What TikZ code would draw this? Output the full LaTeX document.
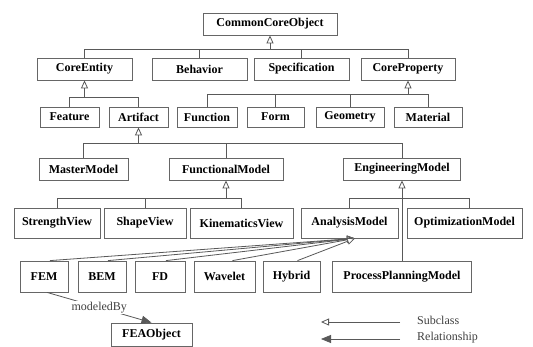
\documentclass[tikz,border=0pt]{standalone}
\usepackage{fontspec}
\setmainfont{Liberation Serif}
\usetikzlibrary{arrows.meta,calc}
\begin{document}
\begin{tikzpicture}[x=1pt,y=-1pt,
  box/.style={draw=black!60, line width=0.8pt, fill=white, font=\fontsize{12}{14}\selectfont\bfseries, inner sep=0pt, anchor=center},
  ln/.style={draw=black!65, line width=0.8pt},
  sub/.style={ln, -{Triangle[open,length=8pt,width=7pt,fill=white]}},
  rel/.style={ln, -{Triangle[length=10pt,width=8pt]}},
  lgd/.style={font=\fontsize{12}{14}\selectfont, text=black!75, anchor=west, inner sep=0pt}]
\useasboundingbox (0,0) rectangle (533,347);
\fill[white] (0,0) rectangle (533,347);
\newcommand{\bx}[6]{\node[box, minimum width=#4pt, minimum height=#5pt] (#1) at (#2,#3) {#6};}
% row 0
\bx{CCO}{270}{24}{134}{22}{CommonCoreObject}
% row 1
\bx{CE}{84.5}{69}{95}{22}{CoreEntity}
\bx{BE}{199.5}{69}{95}{22}{Behavior}
\bx{SP}{301.5}{69}{95}{22}{Specification}
\bx{CP}{408}{69}{94}{22}{CoreProperty}
% row 2
\bx{FE}{69.5}{117}{59}{20}{Feature}
\bx{AR}{138.5}{117}{59}{20}{Artifact}
\bx{FU}{207}{117}{60}{20}{Function}
\bx{FO}{275.5}{117}{57}{20}{Form}
\bx{GE}{350}{117}{68}{20}{Geometry}
\bx{MA}{428}{117}{68}{20}{Material}
% row 3
\bx{MM}{83.5}{169}{89}{22}{MasterModel}
\bx{FM}{226}{169}{114}{22}{FunctionalModel}
\bx{EM}{402}{169}{117}{22}{EngineeringModel}
% row 4
\bx{SV}{57}{223}{86}{30}{StrengthView}
\bx{SH}{145}{223}{82}{30}{ShapeView}
\bx{KV}{241.5}{223}{103}{30}{KinematicsView}
\bx{AM}{349.5}{223}{97}{30}{AnalysisModel}
\bx{OM}{464.5}{223}{115}{30}{OptimizationModel}
% row 5
\bx{FEM}{44}{276.5}{48}{31}{FEM}
\bx{BEM}{102}{276.5}{48}{31}{BEM}
\bx{FD}{160}{276.5}{50}{31}{FD}
\bx{WA}{224.5}{276.5}{61}{31}{Wavelet}
\bx{HY}{291.5}{276.5}{57}{31}{Hybrid}
\bx{PP}{402}{276.5}{139}{31}{ProcessPlanningModel}
% row 6
\bx{FEA}{151.5}{334.5}{81}{23}{FEAObject}

% CommonCoreObject tree
\coordinate (b1) at (270,49);
\draw[ln] (CE.north) -- (CE.north |- b1) -- (CP.north |- b1) -- (CP.north);
\draw[ln] (BE.north) -- (BE.north |- b1);
\draw[ln] (SP.north) -- (SP.north |- b1);
\draw[sub] (b1) -- (CCO.south);
% CoreEntity tree
\coordinate (b2) at (84.5,97);
\draw[ln] (FE.north) -- (FE.north |- b2) -- (AR.north |- b2) -- (AR.north);
\draw[sub] (b2) -- (CE.south);
% CoreProperty tree
\coordinate (b3) at (408,94);
\draw[ln] (FU.north) -- (FU.north |- b3) -- (MA.north |- b3) -- (MA.north);
\draw[ln] (FO.north) -- (FO.north |- b3);
\draw[ln] (GE.north) -- (GE.north |- b3);
\draw[sub] (b3) -- (CP.south);
% Artifact tree
\coordinate (b4) at (138.5,143);
\draw[ln] (MM.north) -- (MM.north |- b4) -- (EM.north |- b4) -- (EM.north);
\draw[ln] (FM.north) -- (FM.north |- b4);
\draw[sub] (b4) -- (AR.south);
% FunctionalModel tree
\coordinate (b5) at (226,198);
\draw[ln] (SV.north) -- (SV.north |- b5) -- (KV.north |- b5) -- (KV.north);
\draw[ln] (SH.north) -- (SH.north |- b5);
\draw[sub] (b5) -- (FM.south);
% EngineeringModel tree
\coordinate (b6) at (402,198);
\coordinate (omt) at ($(OM.north)+(5,0)$);
\draw[ln] (AM.north) -- (AM.north |- b6) -- (omt |- b6) -- (omt);
\draw[ln] (PP.north) -- (b6);
\draw[sub] (b6) -- (EM.south);
% AnalysisModel subclasses
\coordinate (amtip) at ($(AM.south)+(5.5,0)$);
\draw[sub] ($(FEM.north)+(6,0)$) -- (amtip);
\draw[sub] ($(BEM.north)+(6,0)$) -- (amtip);
\draw[sub] ($(FD.north)+(6,0)$) -- (amtip);
\draw[sub] ($(WA.north)+(8,0)$) -- (amtip);
\draw[sub] ($(HY.north)+(6,0)$) -- (amtip);
% relationship
\draw[rel] ($(FEM.south)+(3,0)$) -- node[fill=white, inner sep=1pt, font=\fontsize{12}{14}\selectfont, text=black!75] (mb) {modeledBy} (FEA.north);

% legend
\coordinate (s1) at (321,322);
\coordinate (s2) at (400,322);
\draw[sub] (s2) -- (s1);
\node[lgd] (ls) at (417,320) {Subclass};
\coordinate (r1) at (321,339);
\coordinate (r2) at (400,339);
\draw[rel] (r2) -- (r1);
\node[lgd] (lr) at (417,338) {Relationship};
\end{tikzpicture}
\end{document}
